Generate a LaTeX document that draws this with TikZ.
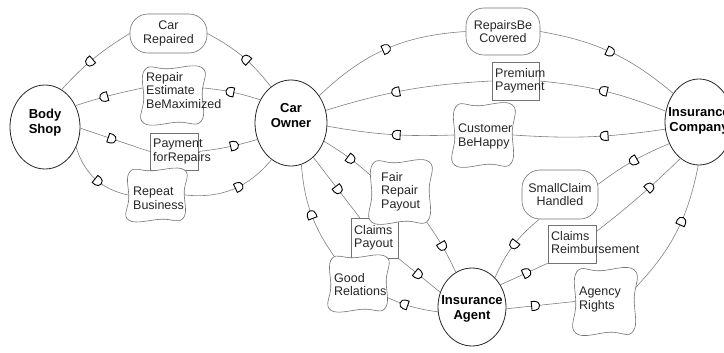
\documentclass[tikz,border=0pt]{standalone}
\usepackage{fontspec}
\setmainfont{Liberation Sans}
\usetikzlibrary{shapes.geometric,decorations.markings,calc}

\tikzset{
  actor/.style={ellipse, draw=black!85, line width=0.8pt, inner sep=0pt, fill=white},
  actortext/.style={font=\fontsize{13}{15}\selectfont\bfseries, align=center, inner sep=0pt, text=black},
  goal/.style={rectangle, rounded corners=18pt, draw=black!55, line width=0.6pt, inner sep=0pt,
    align=center, font=\fontsize{12.5}{13.5}\selectfont, text=black!85},
  resource/.style={rectangle, draw=black!55, line width=0.6pt, inner sep=0pt},
  softgoal/.style={rectangle, inner sep=0pt},
  sgline/.style={draw=black!55, line width=0.6pt, fill=white},
  dtext/.style={anchor=north west, inner sep=0pt, align=left,
    font=\fontsize{12.5}{13.5}\selectfont, text=black!85},
  link/.style={draw=black!50, line width=0.6pt},
  dglyph/.style={draw=black, line width=0.9pt, fill=white},
  dfwd/.style={postaction={decorate, decoration={markings,
    mark=at position #1 with {\path[dglyph] (-3.5pt,-4.5pt) -- (-3.5pt,4.5pt) -- (0pt,4.5pt)
      arc[start angle=90, end angle=-90, radius=4.5pt] -- cycle;}}}},
  dbwd/.style={postaction={decorate, decoration={markings,
    mark=at position #1 with {\path[dglyph] (3.5pt,-4.5pt) -- (3.5pt,4.5pt) -- (0pt,4.5pt)
      arc[start angle=90, end angle=270, radius=4.5pt] -- cycle;}}}},
}

% wavy outline of a softgoal around its (invisible) node box
\newcommand{\sgblob}[1]{%
  \path[sgline] plot[smooth cycle, tension=0.75] coordinates {
    ($(#1.north west)+(2,-2)$) ($(#1.north)+(-5,-1)$) ($(#1.north east)+(-1,0)$)
    ($(#1.east)+(-1,3)$) ($(#1.south east)+(-2,2)$) ($(#1.south)+(5,1)$)
    ($(#1.south west)+(1,0)$) ($(#1.west)+(1,-3)$)};}

\begin{document}
\begin{tikzpicture}[x=1pt,y=1pt]
\useasboundingbox (0,0) rectangle (724,-353);

% actors
\node[actor, minimum width=70pt, minimum height=84pt,
  label={[actortext, yshift=4pt]center:Body\\Shop}] (bs) at (45,-127) {};
\node[actor, minimum width=72pt, minimum height=86pt,
  label={[actortext, yshift=7pt]center:Car\\Owner}] (co) at (291,-123) {};
\node[actor, minimum width=68pt, minimum height=86pt,
  label={[actortext, yshift=1pt]center:Insurance\\Company}] (ic) at (699,-122) {};
\node[actor, minimum width=68pt, minimum height=78pt,
  label={[actortext, yshift=-2pt]center:Insurance\\Agent}] (ia) at (472,-307) {};

% goals
\node[goal, minimum width=77pt, minimum height=39pt] (cr) at (168.5,-33.5) {Car\\Repaired};
\node[goal, minimum width=74pt, minimum height=47pt] (rbc) at (503,-31.5) {RepairsBe\\Covered};
\node[goal, minimum width=76pt, minimum height=49pt] (sch) at (560,-194.5) {SmallClaim\\Handled};

% resources
\node[resource, minimum width=48pt, minimum height=37pt] (pfr) at (174,-151.5) {};
\node[resource, minimum width=47pt, minimum height=38pt] (pp) at (515.5,-81) {};
\node[resource, minimum width=47pt, minimum height=40pt] (cp) at (374.5,-238) {};
\node[resource, minimum width=48pt, minimum height=38pt] (crb) at (572,-244) {};

% softgoals
\node[softgoal, minimum width=60pt, minimum height=55pt] (reb) at (173,-95.5) {};
\node[softgoal, minimum width=57pt, minimum height=50pt] (rb) at (156.5,-195) {};
\node[softgoal, minimum width=59pt, minimum height=60pt] (cb) at (483.5,-135) {};
\node[softgoal, minimum width=59pt, minimum height=60pt] (frp) at (400.5,-192) {};
\node[softgoal, minimum width=57pt, minimum height=53pt] (gr) at (358.5,-283.5) {};
\node[softgoal, minimum width=60pt, minimum height=63pt] (ar) at (605,-301.5) {};

% dependency links
\draw[link, dbwd=0.45] (bs.66) to[bend left=8] (cr.west);
\draw[link, dbwd=0.56] (cr.east) to[bend left=12] (co.119);
\draw[link, dbwd=0.43] (bs.35) to[bend left=3] (reb.166);
\draw[link, dbwd=0.47] (reb.14) to[bend left=6] (co.143);
\draw[link, dfwd=0.45] (bs.358) to (pfr.west);
\draw[link, dfwd=0.6] (pfr.east) to[bend right=5] (co.206);
\draw[link, dfwd=0.55] (bs.327) to[bend right=30] (rb.west);
\draw[link, dfwd=0.56] (rb.east) to[bend right=28] (co.242);
\draw[link, dfwd=0.5] (co.44) to[bend left=20] (rbc.west);
\draw[link, dfwd=0.49] (rbc.east) to[bend left=15] (ic.132);
\draw[link, dbwd=0.43] (co.20) to[bend left=7] (pp.west);
\draw[link, dbwd=0.5] (pp.east) to[bend left=8] (ic.162);
\draw[link, dbwd=0.55] (co.355) to[bend right=6] (cb.west);
\draw[link, dbwd=0.6] (cb.east) to[bend right=6] (ic.192);
\draw[link, dfwd=0.55] (co.331) to[bend left=5] (frp.151);
\draw[link, dfwd=0.49] (frp.311) to[bend left=5] (ia.115);
\draw[link, dfwd=0.53] (co.303) to (cp.126);
\draw[link, dfwd=0.47] (cp.south east) to (ia.155);
\draw[link, dbwd=0.52] (co.284) to[bend right=15] (gr.132);
\draw[link, dbwd=0.35] (gr.334) to[bend right=8] (ia.188);
\draw[link, dbwd=0.52] (ia.52) to[bend left=13] (sch.230);
\draw[link, dbwd=0.52] (sch.15) to[bend left=7] (ic.216);
\draw[link, dfwd=0.55] (ia.38) to (crb.south west);
\draw[link, dfwd=0.62] (crb.27) to[bend right=3] (ic.243);
\draw[link, dfwd=0.42] (ia.357) to (ar.west);
\draw[link, dfwd=0.58] (ar.24) to[bend right=16] (ic.269);

% softgoal outlines
\sgblob{reb}
\sgblob{rb}
\sgblob{cb}
\sgblob{frp}
\sgblob{gr}
\sgblob{ar}

% dependum texts
\node[dtext] (pfr-t) at (153,-139) {Payment\\forRepairs};
\node[dtext] (pp-t) at (495,-68) {Premium\\Payment};
\node[dtext] (cp-t) at (354,-225) {Claims\\Payout};
\node[dtext] (crb-t) at (551,-231) {Claims\\Reimbursement};
\node[dtext] (reb-t) at (146,-72) {Repair\\Estimate\\BeMaximized};
\node[dtext] (rb-t) at (133,-187) {Repeat\\Business};
\node[dtext] (cb-t) at (458,-124) {Customer\\BeHappy};
\node[dtext] (frp-t) at (381,-172) {Fair\\Repair\\Payout};
\node[dtext] (gr-t) at (334,-273) {Good\\Relations};
\node[dtext] (ar-t) at (579,-287) {Agency\\Rights};
\end{tikzpicture}
\end{document}
